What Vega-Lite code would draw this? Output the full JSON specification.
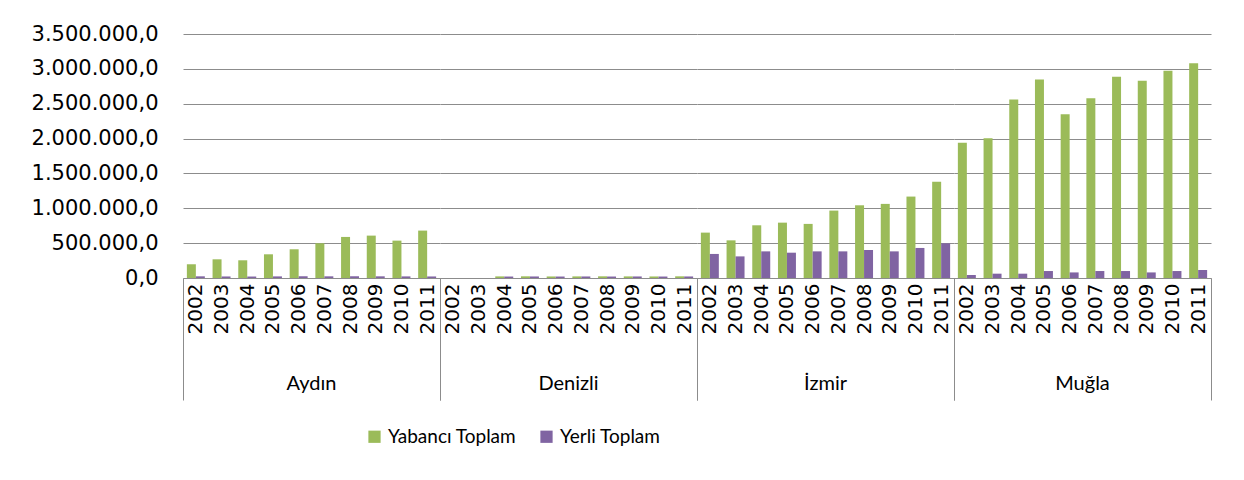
{
  "$schema": "https://vega.github.io/schema/vega-lite/v6.json",
  "background": "white",
  "padding": {"left": 31, "top": 23, "right": 10, "bottom": 5},
  "data": {"values": [
    {"city": "Aydın", "year": "2002", "series": "Yabancı Toplam", "value": 197000},
    {"city": "Aydın", "year": "2003", "series": "Yabancı Toplam", "value": 268000},
    {"city": "Aydın", "year": "2004", "series": "Yabancı Toplam", "value": 254000},
    {"city": "Aydın", "year": "2005", "series": "Yabancı Toplam", "value": 340000},
    {"city": "Aydın", "year": "2006", "series": "Yabancı Toplam", "value": 412000},
    {"city": "Aydın", "year": "2007", "series": "Yabancı Toplam", "value": 498000},
    {"city": "Aydın", "year": "2008", "series": "Yabancı Toplam", "value": 589000},
    {"city": "Aydın", "year": "2009", "series": "Yabancı Toplam", "value": 608000},
    {"city": "Aydın", "year": "2010", "series": "Yabancı Toplam", "value": 536000},
    {"city": "Aydın", "year": "2011", "series": "Yabancı Toplam", "value": 680000},
    {"city": "Aydın", "year": "2002", "series": "Yerli Toplam", "value": 24000},
    {"city": "Aydın", "year": "2003", "series": "Yerli Toplam", "value": 22000},
    {"city": "Aydın", "year": "2004", "series": "Yerli Toplam", "value": 21000},
    {"city": "Aydın", "year": "2005", "series": "Yerli Toplam", "value": 23000},
    {"city": "Aydın", "year": "2006", "series": "Yerli Toplam", "value": 25000},
    {"city": "Aydın", "year": "2007", "series": "Yerli Toplam", "value": 24000},
    {"city": "Aydın", "year": "2008", "series": "Yerli Toplam", "value": 25000},
    {"city": "Aydın", "year": "2009", "series": "Yerli Toplam", "value": 24000},
    {"city": "Aydın", "year": "2010", "series": "Yerli Toplam", "value": 23000},
    {"city": "Aydın", "year": "2011", "series": "Yerli Toplam", "value": 22000},
    {"city": "Denizli", "year": "2002", "series": "Yabancı Toplam", "value": 0},
    {"city": "Denizli", "year": "2003", "series": "Yabancı Toplam", "value": 0},
    {"city": "Denizli", "year": "2004", "series": "Yabancı Toplam", "value": 23000},
    {"city": "Denizli", "year": "2005", "series": "Yabancı Toplam", "value": 24000},
    {"city": "Denizli", "year": "2006", "series": "Yabancı Toplam", "value": 22000},
    {"city": "Denizli", "year": "2007", "series": "Yabancı Toplam", "value": 23000},
    {"city": "Denizli", "year": "2008", "series": "Yabancı Toplam", "value": 24000},
    {"city": "Denizli", "year": "2009", "series": "Yabancı Toplam", "value": 23000},
    {"city": "Denizli", "year": "2010", "series": "Yabancı Toplam", "value": 22000},
    {"city": "Denizli", "year": "2011", "series": "Yabancı Toplam", "value": 24000},
    {"city": "Denizli", "year": "2002", "series": "Yerli Toplam", "value": 0},
    {"city": "Denizli", "year": "2003", "series": "Yerli Toplam", "value": 0},
    {"city": "Denizli", "year": "2004", "series": "Yerli Toplam", "value": 21000},
    {"city": "Denizli", "year": "2005", "series": "Yerli Toplam", "value": 22000},
    {"city": "Denizli", "year": "2006", "series": "Yerli Toplam", "value": 21000},
    {"city": "Denizli", "year": "2007", "series": "Yerli Toplam", "value": 22000},
    {"city": "Denizli", "year": "2008", "series": "Yerli Toplam", "value": 21000},
    {"city": "Denizli", "year": "2009", "series": "Yerli Toplam", "value": 22000},
    {"city": "Denizli", "year": "2010", "series": "Yerli Toplam", "value": 21000},
    {"city": "Denizli", "year": "2011", "series": "Yerli Toplam", "value": 22000},
    {"city": "İzmir", "year": "2002", "series": "Yabancı Toplam", "value": 651000},
    {"city": "İzmir", "year": "2003", "series": "Yabancı Toplam", "value": 540000},
    {"city": "İzmir", "year": "2004", "series": "Yabancı Toplam", "value": 756000},
    {"city": "İzmir", "year": "2005", "series": "Yabancı Toplam", "value": 794000},
    {"city": "İzmir", "year": "2006", "series": "Yabancı Toplam", "value": 776000},
    {"city": "İzmir", "year": "2007", "series": "Yabancı Toplam", "value": 967000},
    {"city": "İzmir", "year": "2008", "series": "Yabancı Toplam", "value": 1043000},
    {"city": "İzmir", "year": "2009", "series": "Yabancı Toplam", "value": 1063000},
    {"city": "İzmir", "year": "2010", "series": "Yabancı Toplam", "value": 1168000},
    {"city": "İzmir", "year": "2011", "series": "Yabancı Toplam", "value": 1379000},
    {"city": "İzmir", "year": "2002", "series": "Yerli Toplam", "value": 345000},
    {"city": "İzmir", "year": "2003", "series": "Yerli Toplam", "value": 310000},
    {"city": "İzmir", "year": "2004", "series": "Yerli Toplam", "value": 382000},
    {"city": "İzmir", "year": "2005", "series": "Yerli Toplam", "value": 363000},
    {"city": "İzmir", "year": "2006", "series": "Yerli Toplam", "value": 382000},
    {"city": "İzmir", "year": "2007", "series": "Yerli Toplam", "value": 382000},
    {"city": "İzmir", "year": "2008", "series": "Yerli Toplam", "value": 402000},
    {"city": "İzmir", "year": "2009", "series": "Yerli Toplam", "value": 382000},
    {"city": "İzmir", "year": "2010", "series": "Yerli Toplam", "value": 431000},
    {"city": "İzmir", "year": "2011", "series": "Yerli Toplam", "value": 497000},
    {"city": "Muğla", "year": "2002", "series": "Yabancı Toplam", "value": 1939000},
    {"city": "Muğla", "year": "2003", "series": "Yabancı Toplam", "value": 2004000},
    {"city": "Muğla", "year": "2004", "series": "Yabancı Toplam", "value": 2560000},
    {"city": "Muğla", "year": "2005", "series": "Yabancı Toplam", "value": 2847000},
    {"city": "Muğla", "year": "2006", "series": "Yabancı Toplam", "value": 2349000},
    {"city": "Muğla", "year": "2007", "series": "Yabancı Toplam", "value": 2578000},
    {"city": "Muğla", "year": "2008", "series": "Yabancı Toplam", "value": 2886000},
    {"city": "Muğla", "year": "2009", "series": "Yabancı Toplam", "value": 2828000},
    {"city": "Muğla", "year": "2010", "series": "Yabancı Toplam", "value": 2972000},
    {"city": "Muğla", "year": "2011", "series": "Yabancı Toplam", "value": 3081000},
    {"city": "Muğla", "year": "2002", "series": "Yerli Toplam", "value": 43000},
    {"city": "Muğla", "year": "2003", "series": "Yerli Toplam", "value": 62000},
    {"city": "Muğla", "year": "2004", "series": "Yerli Toplam", "value": 62000},
    {"city": "Muğla", "year": "2005", "series": "Yerli Toplam", "value": 100000},
    {"city": "Muğla", "year": "2006", "series": "Yerli Toplam", "value": 80000},
    {"city": "Muğla", "year": "2007", "series": "Yerli Toplam", "value": 100000},
    {"city": "Muğla", "year": "2008", "series": "Yerli Toplam", "value": 100000},
    {"city": "Muğla", "year": "2009", "series": "Yerli Toplam", "value": 80000},
    {"city": "Muğla", "year": "2010", "series": "Yerli Toplam", "value": 100000},
    {"city": "Muğla", "year": "2011", "series": "Yerli Toplam", "value": 115000}
  ]},
  "facet": {
    "column": {
      "field": "city", "type": "nominal",
      "sort": ["Aydın", "Denizli", "İzmir", "Muğla"],
      "title": null,
      "header": {"labelOrient": "bottom", "labelFont": "Lato", "labelFontSize": 20, "labelColor": "#000000", "labelPadding": -27}
    }
  },
  "spacing": 0,
  "spec": {
    "width": 257,
    "height": 244,
    "mark": {"type": "bar"},
    "encoding": {
      "x": {
        "field": "year", "type": "nominal", "title": null,
        "scale": {"paddingInner": 0, "paddingOuter": 0},
        "axis": {
          "labelAngle": -90, "labelFont": "DejaVu Sans", "labelFontSize": 20, "labelColor": "#000000", "labelPadding": -117,
          "domainColor": "#8c8c8c", "tickColor": "#8c8c8c", "tickSize": 122, "tickBand": "extent", "tickExtra": true,
          "tickOpacity": {"condition": {"test": "datum.value === '2011' || datum.index < 0 || datum.extra", "value": 1}, "value": 0}
        }
      },
      "xOffset": {"field": "series", "type": "nominal", "sort": ["Yabancı Toplam", "Yerli Toplam"], "scale": {"paddingInner": 0, "paddingOuter": 0.43}},
      "y": {
        "field": "value", "type": "quantitative", "title": null,
        "scale": {"domain": [0, 3500000]},
        "axis": {
          "values": [0, 500000, 1000000, 1500000, 2000000, 2500000, 3000000, 3500000],
          "format": ",.1f", "labelFont": "DejaVu Sans", "labelFontSize": 21, "labelColor": "#000000", "labelPadding": 25,
          "ticks": false, "domain": false, "grid": true, "gridColor": "#8c8c8c", "gridWidth": 1
        }
      },
      "color": {
        "field": "series", "type": "nominal",
        "scale": {"domain": ["Yabancı Toplam", "Yerli Toplam"], "range": ["#9BBB59", "#8064A2"]},
        "legend": {
          "orient": "none", "legendX": 182, "legendY": 393, "direction": "horizontal", "title": null,
          "symbolType": "square", "symbolSize": 150, "symbolStrokeWidth": 0, "symbolOpacity": 1,
          "labelFont": "Lato", "labelFontSize": 19, "labelColor": "#000000", "columnPadding": 20, "labelOffset": 4
        }
      }
    }
  },
  "config": {
    "view": {"stroke": null},
    "locale": {"number": {"decimal": ",", "thousands": ".", "grouping": [3], "currency": ["", ""]}}
  }
}
